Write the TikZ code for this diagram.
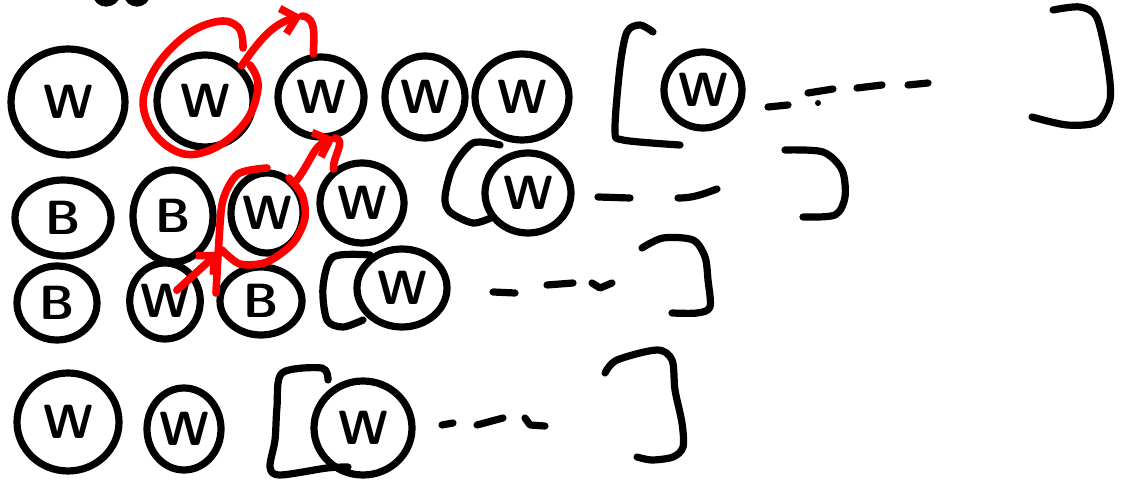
\documentclass[tikz,border=0pt]{standalone}
\usepackage{tikz}
\usetikzlibrary{shapes.geometric, arrows.meta}
\definecolor{colInk}{RGB}{0,0,0}
\definecolor{colPen}{RGB}{255,0,0}

\begin{document}
\begin{tikzpicture}[
  x=0.5pt, y=-0.5pt,
  tok/.style 2 args={draw=colInk, ellipse, line width=3.6pt, inner sep=0pt,
                     minimum width=#1, minimum height=#2,
                     font=\fontsize{24}{24}\selectfont\sffamily\bfseries},
  ink/.style={draw=colInk, line width=3.6pt, line cap=round, line join=round},
  pen/.style={draw=colPen, line width=3.8pt, line cap=round, line join=round},
  arr/.style={pen, -{Straight Barb[length=7pt, width=13pt]}},
]
\useasboundingbox (0,0) rectangle (1135,485);

% ─── ROW 1 ────────────────────────────────────────────────────────────────────
\node[tok={57pt}{53pt}] (w1) at (68,102)  {W};
\node[tok={48pt}{46pt}] (w2) at (205,101) {W};
\node[tok={43pt}{40pt}] (w3) at (321,97)  {W};
\node[tok={40pt}{41pt}] (w4) at (425,97)  {W};
\node[tok={47pt}{43pt}] (w5) at (522,97)  {W};
\node[tok={39pt}{38pt}] (w6) at (703,90)  {W};

\draw[ink] plot[smooth] coordinates {(653,32) (640,25) (627,32) (620,67) (615,130) (623,140) (680,145)};
\draw[ink] (768,107) -- (788,105);
\fill[colInk] (818,103) circle (3);
\draw[ink] (808,93) -- (833,89);
\draw[ink] (857,88) -- (882,85);
\draw[ink] (908,85) -- (928,83);
\draw[ink] plot[smooth] coordinates {(1053,10) (1080,7) (1097,18) (1108,67) (1110,100) (1097,122) (1067,125) (1032,117)};

% clipped stroke at the top edge
\draw[ink] (96,-6) to[out=-80, in=180] (106,3) to[out=0, in=-100] (117,-6);
\draw[ink] (127,-6) to[out=-80, in=180] (137,3) to[out=0, in=-100] (147,-6);

% ─── ROW 2 ────────────────────────────────────────────────────────────────────
\node[tok={48pt}{38pt}] (b1) at (63,218)  {B};
\node[tok={40pt}{46pt}] (b2) at (173,216) {B};
\node[tok={36pt}{40pt}] (w7) at (267,213) {W};
\node[tok={42pt}{40pt}] (w8) at (362,203) {W};
\node[tok={43pt}{40pt}] (w9) at (528,193) {W};

\draw[ink] plot[smooth] coordinates {(500,145) (473,143) (453,167) (445,197) (450,212) (473,223) (493,217)};
\draw[ink] (598,197) -- (630,198);
\draw[ink] (678,198) to[out=0, in=200] (717,189);
\draw[ink] plot[smooth] coordinates {(785,150) (823,152) (842,170) (845,197) (835,215) (803,217)};

% ─── ROW 3 ────────────────────────────────────────────────────────────────────
\node[tok={40pt}{37pt}] (b3)  at (57,303)  {B};
\node[tok={33pt}{38pt}] (w10) at (165,301) {W};
\node[tok={41pt}{34pt}] (b4)  at (261,301) {B};
\node[tok={45pt}{39pt}] (w11) at (402,288) {W};

\draw[ink] plot[smooth] coordinates {(370,255) (333,257) (323,287) (327,320) (343,327) (363,320)};
\draw[ink] (493,292) -- (515,293);
\draw[ink] (547,285) -- (573,283);
\draw[ink] (592,283) -- (600,288) -- (612,283);
\draw[ink] plot[smooth] coordinates {(642,248) (663,238) (693,240) (705,257) (708,280) (710,307) (697,313) (672,313)};

% ─── ROW 4 ────────────────────────────────────────────────────────────────────
\node[tok={51pt}{49pt}] (w12) at (68,422)  {W};
\node[tok={37pt}{41pt}] (w13) at (184,429) {W};
\node[tok={49pt}{47pt}] (w14) at (363,428) {W};

\draw[ink] plot[smooth] coordinates {(328,380) (322,368) (282,373) (277,407) (275,440) (270,467) (280,475) (327,468) (348,467)};
\draw[ink] (442,425) -- (453,423);
\draw[ink] (477,425) -- (503,418);
\draw[ink] (525,418) -- (530,425) -- (545,426);
\draw[ink] plot[smooth] coordinates {(605,373) (617,360) (657,350) (672,360) (675,390) (682,423) (683,447) (673,457) (652,460) (637,457)};

% ─── RED MARKS ────────────────────────────────────────────────────────────────
\draw[pen] plot[smooth, tension=0.7] coordinates {(243,48) (238,27) (215,22) (180,40) (150,78) (145,115) (170,148) (205,152) (243,125) (258,88) (250,65)};
\coordinate (tip1) at (302,16);
\draw[arr] (w2.north east) to[out=55, in=195] (tip1);
\draw[pen] (tip1) to[out=-5, in=90] (w3.100);

\draw[pen] plot[smooth] coordinates {(267,168) (238,174) (223,200) (219,240) (216,293)};
\draw[pen] plot[smooth] coordinates {(222,250) (240,264) (267,262) (293,243) (305,218) (302,195) (289,178)};
\coordinate (tip2) at (335,138);
\draw[arr] (w7.north east) to[out=50, in=200] (tip2);
\draw[pen] (tip2) to[out=-10, in=95] (w8.130);

\coordinate (tip3) at (219,252);
\draw[arr, shorten <=8pt] (w10.center) -- (tip3);

\end{tikzpicture}
\end{document}
